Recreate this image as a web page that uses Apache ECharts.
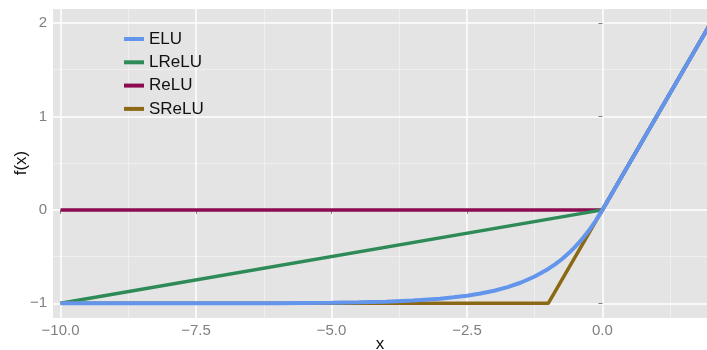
<!DOCTYPE html>
<html>
<head>
<meta charset="utf-8">
<script src="https://cdn.jsdelivr.net/npm/echarts@6/dist/echarts.min.js"></script>
<style>
  html, body { margin: 0; padding: 0; background: #fff; }
  #main { width: 707px; height: 350px; }
</style>
</head>
<body>
<div id="main"></div>
<script>
// values
const xTicks = [-10, -7.5, -5, -2.5, 0];
const xMinor = [-8.75, -6.25, -3.75, -1.25, 1.25];
const yTicks = [-1, 0, 1, 2];
const yMinor = [-0.5, 0.5, 1.5];

const reluX = [-10, 0, 2];
const reluY = [0, 0, 2];
const lreluX = [-10, 0, 2];
const lreluY = [-1, 0, 2];
const sreluX = [-10, -1, 0, 2];
const sreluY = [-1, -1, 0, 2];
const eluX = [-10, -8, -6, -5, -4.5, -4, -3.5, -3, -2.75, -2.5, -2.25, -2, -1.75, -1.5, -1.25, -1, -0.875, -0.75, -0.625, -0.5, -0.375, -0.25, -0.125, 0, 2];
const eluY = [-1, -1, -0.998, -0.993, -0.989, -0.982, -0.97, -0.95, -0.936, -0.918, -0.895, -0.865, -0.826, -0.777, -0.713, -0.632, -0.583, -0.528, -0.465, -0.393, -0.313, -0.221, -0.118, 0, 2];

const pairs = (xs, ys) => xs.map((x, i) => [x, ys[i]]);
const minus = (s) => String(s).replace('-', '\u2212');

const myChart = echarts.init(document.getElementById('main'));

const xRange = { min: -10.14, max: 1.93 };
const yRange = { min: -1.157, max: 2.15 };

const option = {
  animation: false,
  textStyle: { fontFamily: 'Liberation Sans, Arial, sans-serif' },
  grid: {
    left: 53, top: 9, right: 0, bottom: 32,
    outerBoundsMode: 'none', containLabel: false,
    show: true, backgroundColor: '#E4E4E4', borderWidth: 0
  },
  legend: {
    orient: 'vertical',
    left: 119, top: 25,
    itemWidth: 20, itemHeight: 4, itemGap: 5.3,
    icon: 'rect',
    textStyle: { fontSize: 17, color: '#111', lineHeight: 18 },
    data: ['ELU', 'LReLU', 'ReLU', 'SReLU']
  },
  // axis titles
  graphic: [
    {
      type: 'text', x: 380, y: 344,
      style: { text: 'x', fontSize: 17, fill: '#111', align: 'center', verticalAlign: 'middle', fontFamily: 'Liberation Sans, Arial, sans-serif' }
    },
    {
      type: 'text', x: 21, y: 163, rotation: Math.PI / 2,
      style: { text: 'f(x)', fontSize: 17, fill: '#111', align: 'center', verticalAlign: 'middle', fontFamily: 'Liberation Sans, Arial, sans-serif' }
    }
  ],
  xAxis: [
    {
      type: 'value', ...xRange,
      axisLine: { show: false },
      axisTick: { show: true, length: 4, lineStyle: { color: '#7F7F7F' }, customValues: xTicks },
      axisLabel: {
        customValues: xTicks, fontSize: 15, color: '#7F7F7F', margin: 5,
        formatter: (v) => minus(Number(v).toFixed(1))
      },
      splitLine: { show: true, lineStyle: { color: '#FFFFFF', width: 1.5 } },
      z: 1
    },
    {
      // minor grid lines only
      type: 'value', ...xRange, position: 'bottom',
      axisLine: { show: false },
      axisTick: { show: false, customValues: xMinor },
      axisLabel: { show: false, customValues: xMinor },
      splitLine: { show: true, lineStyle: { color: '#F1F1F1', width: 0.8 } },
      z: 0
    }
  ],
  yAxis: [
    {
      type: 'value', ...yRange,
      axisLine: { show: false },
      axisTick: { show: true, length: 4, lineStyle: { color: '#7F7F7F' }, customValues: yTicks },
      axisLabel: {
        customValues: yTicks, fontSize: 15, color: '#7F7F7F', margin: 6,
        formatter: (v) => minus(v)
      },
      splitLine: { show: true, lineStyle: { color: '#FFFFFF', width: 1.5 } },
      z: 1
    },
    {
      type: 'value', ...yRange, position: 'left',
      axisLine: { show: false },
      axisTick: { show: false, customValues: yMinor },
      axisLabel: { show: false, customValues: yMinor },
      splitLine: { show: true, lineStyle: { color: '#F1F1F1', width: 0.8 } },
      z: 0
    }
  ],
  series: [
    {
      name: 'ReLU', type: 'line', showSymbol: false, z: 3,
      color: '#8B0A50', lineStyle: { width: 3.5 },
      data: pairs(reluX, reluY)
    },
    {
      name: 'LReLU', type: 'line', showSymbol: false, z: 3,
      color: '#2E8B57', lineStyle: { width: 3.5 },
      data: pairs(lreluX, lreluY)
    },
    {
      name: 'SReLU', type: 'line', showSymbol: false, z: 3,
      color: '#8B6914', lineStyle: { width: 3.5 },
      data: pairs(sreluX, sreluY)
    },
    {
      name: 'ELU', type: 'line', showSymbol: false, z: 4,
      color: '#6495ED', lineStyle: { width: 4 },
      data: pairs(eluX, eluY)
    }
  ]
};

myChart.setOption(option);
</script>
</body>
</html>
